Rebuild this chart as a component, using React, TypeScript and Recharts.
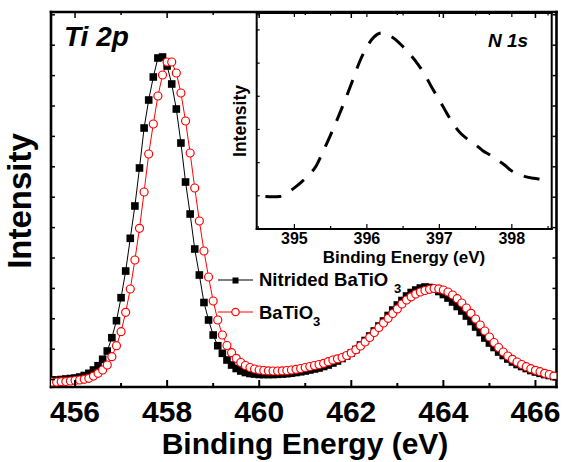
import React from "react";
import { LineChart, Line, XAxis, YAxis } from "recharts";

const FONT = '"Liberation Sans", Arial, sans-serif';

// binding energy grid, eV
const energy = [
  455.5, 455.6, 455.7, 455.8, 455.9,
  456.0, 456.1, 456.2, 456.3, 456.4, 456.5, 456.6, 456.7, 456.8, 456.9,
  457.0, 457.1, 457.2, 457.3, 457.4, 457.5, 457.6, 457.7, 457.8, 457.9,
  458.0, 458.1, 458.2, 458.3, 458.4, 458.5, 458.6, 458.7, 458.8, 458.9,
  459.0, 459.1, 459.2, 459.3, 459.4, 459.5, 459.6, 459.7, 459.8, 459.9,
  460.0, 460.1, 460.2, 460.3, 460.4, 460.5, 460.6, 460.7, 460.8, 460.9,
  461.0, 461.1, 461.2, 461.3, 461.4, 461.5, 461.6, 461.7, 461.8, 461.9,
  462.0, 462.1, 462.2, 462.3, 462.4, 462.5, 462.6, 462.7, 462.8, 462.9,
  463.0, 463.1, 463.2, 463.3, 463.4, 463.5, 463.6, 463.7, 463.8, 463.9,
  464.0, 464.1, 464.2, 464.3, 464.4, 464.5, 464.6, 464.7, 464.8, 464.9,
  465.0, 465.1, 465.2, 465.3, 465.4, 465.5, 465.6, 465.7, 465.8, 465.9,
  466.0, 466.1, 466.2, 466.3, 466.4,
];

// Ti 2p intensity (a.u.), nitrided BaTiO3
const nitrided = [
  -0.13, -0.13, 0.03, 0.2, 0.36,
  0.53, 0.86, 1.35, 2.07, 3.16, 4.57, 6.68, 9.41, 13.78, 19.38,
  26.94, 35.72, 46.48, 57.11, 69.61, 82.76, 91.97, 99.54, 105.79, 106.12,
  103.16, 97.24, 89.01, 77.83, 65, 54.47, 42.96, 34.41, 25.36, 19.61,
  14.67, 11.15, 8.65, 6.45, 4.8, 3.65, 2.83, 2.34, 2.01, 1.84,
  1.68, 1.68, 1.68, 1.68, 1.74, 1.84, 1.94, 2.11, 2.34, 2.57,
  2.83, 3.16, 3.49, 3.82, 4.31, 4.8, 5.46, 6.12, 6.94, 7.76,
  8.75, 9.9, 11.38, 12.86, 14.34, 15.99, 17.63, 19.28, 21.09, 22.89,
  24.54, 26.02, 27.5, 28.65, 29.47, 30.13, 30.46, 30.3, 29.8, 28.98,
  27.99, 26.84, 25.53, 24.05, 22.57, 20.92, 19.11, 17.3, 15.49, 13.68,
  12.04, 10.56, 9.08, 7.93, 6.78, 5.79, 4.97, 4.31, 3.65, 2.99,
  2.5, 2.07, 1.68, 1.35, 1.02,
];

// Ti 2p intensity (a.u.), BaTiO3
const pristine = [
  -0.79, -0.79, -0.69, -0.63, -0.46,
  -0.3, -0.13, 0.1, 0.43, 1.18, 2.07, 3.16, 4.8, 7.53, 11.15,
  15.76, 22.14, 29.8, 39.34, 49.77, 61.71, 74.21, 84.08, 93.29, 100.2,
  104.47, 104.47, 100.86, 94.28, 85.07, 74.54, 63.03, 52.17, 42.3, 33.75,
  25.86, 19.61, 14.67, 11.22, 8.85, 7.01, 5.63, 4.64, 3.98, 3.49,
  3.16, 2.99, 2.89, 2.83, 2.83, 2.89, 2.99, 3.16, 3.39, 3.65,
  3.98, 4.31, 4.64, 4.97, 5.36, 5.89, 6.45, 6.84, 7.27, 7.93,
  8.75, 9.84, 11.05, 12.37, 13.85, 15.49, 17.14, 18.62, 20.16, 21.74,
  23.26, 24.87, 26.18, 27.24, 28.16, 28.82, 29.31, 29.7, 29.97, 29.87,
  29.47, 28.82, 27.83, 26.61, 25.2, 23.55, 21.81, 19.93, 17.96, 15.99,
  14.01, 12.2, 10.56, 9.08, 7.76, 6.68, 5.79, 4.97, 4.24, 3.59,
  3.06, 2.6, 2.07, 1.68, 1.18,
];

const mainXTicks = [456, 457, 458, 459, 460, 461, 462, 463, 464, 465, 466];
const mainYTicks = [0, 10, 20, 30, 40, 50, 60, 70, 80, 90, 100, 110, 120];

// N 1s inset
const insetEnergy = [
  394.6, 394.7, 394.8, 394.9,
  395.0, 395.1, 395.2, 395.3, 395.4, 395.5, 395.6, 395.7, 395.8, 395.9,
  396.0, 396.1, 396.2, 396.3, 396.4, 396.5, 396.6, 396.7, 396.8, 396.9,
  397.0, 397.1, 397.2, 397.3, 397.4, 397.5, 397.6, 397.7, 397.8, 397.9,
  398.0, 398.1, 398.2, 398.3, 398.4, 398.5,
];
const n1s = [
  0.98, 0.97, 0.98, 1.09,
  1.24, 1.42, 1.63, 1.9, 2.36, 2.84, 3.35, 3.89, 4.46, 5.04,
  5.49, 5.79, 5.91, 5.85, 5.7, 5.49, 5.25, 4.98, 4.65, 4.25,
  3.89, 3.5, 3.14, 2.87, 2.69, 2.54, 2.36, 2.23, 2.08, 1.93,
  1.75, 1.66, 1.57, 1.53, 1.5, 1.47,
];
const insetXTicks = [394.5, 395, 395.5, 396, 396.5, 397, 397.5, 398, 398.5];
const insetYTicks = [1, 2, 3, 4, 5, 6];

const mainData = energy.map((e, i) => ({ e, n: nitrided[i], b: pristine[i] }));
const insetData = insetEnergy.map((e, i) => ({ e, v: n1s[i] }));

const frame = { stroke: "#000", strokeWidth: 2.6, strokeLinecap: "square" as const };
const thinFrame = { stroke: "#000", strokeWidth: 2, strokeLinecap: "square" as const };

const isMajor = (v: number) => Math.abs(v - Math.round(v)) < 1e-6;

function MainBottomTick({ x, y, payload }: any) {
  const major = Math.round(payload.value) % 2 === 0;
  return (
    <g>
      <line x1={x} x2={x} y1={y} y2={y - (major ? 7 : 4)} stroke="#000" strokeWidth={2} />
      {major && (
        <text x={x} y={y + 35} textAnchor="middle" fontFamily={FONT} fontWeight="bold" fontSize={30} fill="#000">
          {payload.value}
        </text>
      )}
    </g>
  );
}

function MainTopTick({ x, y, payload }: any) {
  const major = Math.round(payload.value) % 2 === 0;
  return <line x1={x} x2={x} y1={y} y2={y + (major ? 6 : 3)} stroke="#000" strokeWidth={1.5} />;
}

function LeftTick({ x, y }: any) {
  return <line x1={x} x2={x + 4} y1={y} y2={y} stroke="#000" strokeWidth={1.5} />;
}

function RightTick({ x, y }: any) {
  return <line x1={x} x2={x - 4} y1={y} y2={y} stroke="#000" strokeWidth={1.5} />;
}

function InsetBottomTick({ x, y, payload }: any) {
  const major = isMajor(payload.value);
  return (
    <g>
      <line x1={x} x2={x} y1={y} y2={y - (major ? 5 : 3)} stroke="#000" strokeWidth={1.2} />
      {major && (
        <text x={x} y={y + 15} textAnchor="middle" fontFamily={FONT} fontWeight="bold" fontSize={16} fill="#000">
          {payload.value}
        </text>
      )}
    </g>
  );
}

function InsetTopTick({ x, y, payload }: any) {
  const major = isMajor(payload.value);
  return <line x1={x} x2={x} y1={y} y2={y + (major ? 4 : 2.5)} stroke="#000" strokeWidth={1.2} />;
}

function InsetLeftTick({ x, y }: any) {
  return <line x1={x} x2={x + 3} y1={y} y2={y} stroke="#000" strokeWidth={1.2} />;
}

function SquareDot({ cx, cy }: any) {
  if (cx == null || cy == null) return null;
  return <rect x={cx - 3.8} y={cy - 3.8} width={7.6} height={7.6} fill="#000" />;
}

function MainChart() {
  return (
    <LineChart width={563} height={462} data={mainData} margin={{ top: 0, right: 0, bottom: 0, left: 0 }}>
      <XAxis
        xAxisId="b"
        dataKey="e"
        type="number"
        domain={[455.478, 466.457]}
        allowDataOverflow
        ticks={mainXTicks}
        interval={0}
        height={75}
        tickSize={0}
        tickMargin={0}
        tickLine={false}
        axisLine={frame}
        tick={MainBottomTick}
      />
      <XAxis
        xAxisId="t"
        orientation="top"
        dataKey="e"
        type="number"
        domain={[455.478, 466.457]}
        allowDataOverflow
        ticks={mainXTicks}
        interval={0}
        height={12}
        tickSize={0}
        tickMargin={0}
        tickLine={false}
        axisLine={frame}
        tick={MainTopTick}
      />
      <YAxis
        yAxisId="l"
        type="number"
        domain={[-2.43, 120.92]}
        allowDataOverflow
        ticks={mainYTicks}
        interval={0}
        width={51}
        tickSize={0}
        tickMargin={0}
        tickLine={false}
        axisLine={frame}
        tick={LeftTick}
      />
      <YAxis
        yAxisId="r"
        orientation="right"
        type="number"
        domain={[-2.43, 120.92]}
        allowDataOverflow
        ticks={mainYTicks}
        interval={0}
        width={6.5}
        tickSize={0}
        tickMargin={0}
        tickLine={false}
        axisLine={frame}
        tick={RightTick}
      />
      <Line
        xAxisId="b"
        yAxisId="l"
        type="linear"
        dataKey="n"
        stroke="#000"
        strokeWidth={1}
        dot={SquareDot}
        isAnimationActive={false}
      />
      <Line
        xAxisId="b"
        yAxisId="l"
        type="linear"
        dataKey="b"
        stroke="#ff0000"
        strokeWidth={1}
        dot={{ r: 4, fill: "#fff", stroke: "#ff0000", strokeWidth: 1.2 }}
        isAnimationActive={false}
      />
    </LineChart>
  );
}

function InsetChart() {
  return (
    <LineChart width={363} height={290} data={insetData} margin={{ top: 0, right: 0, bottom: 0, left: 0 }}>
      <XAxis
        xAxisId="b"
        dataKey="e"
        type="number"
        domain={[394.48, 398.55]}
        allowDataOverflow
        ticks={insetXTicks}
        interval={0}
        height={61}
        tickSize={0}
        tickMargin={0}
        tickLine={false}
        axisLine={thinFrame}
        tick={InsetBottomTick}
      />
      <XAxis
        xAxisId="t"
        orientation="top"
        dataKey="e"
        type="number"
        domain={[394.48, 398.55]}
        allowDataOverflow
        ticks={insetXTicks}
        interval={0}
        height={13}
        tickSize={0}
        tickMargin={0}
        tickLine={false}
        axisLine={thinFrame}
        tick={InsetTopTick}
      />
      <YAxis
        yAxisId="l"
        type="number"
        domain={[0, 6.51]}
        allowDataOverflow
        ticks={insetYTicks}
        interval={0}
        width={56.7}
        tickSize={0}
        tickMargin={0}
        tickLine={false}
        axisLine={thinFrame}
        tick={InsetLeftTick}
      />
      <YAxis
        yAxisId="r"
        orientation="right"
        type="number"
        domain={[0, 6.51]}
        width={11.3}
        tick={false}
        tickLine={false}
        axisLine={thinFrame}
      />
      <Line
        xAxisId="b"
        yAxisId="l"
        type="monotone"
        dataKey="v"
        stroke="#000"
        strokeWidth={3}
        strokeDasharray="16 12"
        dot={false}
        isAnimationActive={false}
      />
    </LineChart>
  );
}

function Labels() {
  const bold = { fontFamily: FONT, fontWeight: "bold" as const, fill: "#000" };
  return (
    <svg width={563} height={462} style={{ position: "absolute", left: 0, top: 0, pointerEvents: "none" }}>
      <text x={64} y={45.5} fontSize={28} fontStyle="italic" {...bold}>Ti 2p</text>
      <text x={31} y={201} fontSize={33} textAnchor="middle" transform="rotate(-90 31 201)" {...bold}>Intensity</text>
      <text x={305} y={454} fontSize={30} textAnchor="middle" {...bold}>Binding Energy (eV)</text>

      {/* legend */}
      <line x1={218} x2={253} y1={280} y2={280} stroke="#000" strokeWidth={1.2} />
      <rect x={232.5} y={277.5} width={6} height={6} fill="#000" />
      <text x={259} y={286} fontSize={18.5} {...bold}>Nitrided BaTiO</text>
      <text x={394} y={293} fontSize={13} {...bold}>3</text>
      <line x1={218} x2={253} y1={312} y2={312} stroke="#ff0000" strokeWidth={1} />
      <circle cx={235.5} cy={312} r={3.7} fill="#fff" stroke="#ff0000" strokeWidth={1.2} />
      <text x={259} y={318.5} fontSize={18.5} {...bold}>BaTiO</text>
      <text x={313} y={325.5} fontSize={13} {...bold}>3</text>

      {/* inset text */}
      <text x={488} y={46.5} fontSize={19} fontStyle="italic" {...bold}>N 1s</text>
      <text x={246} y={121} fontSize={17.5} textAnchor="middle" transform="rotate(-90 246 121)" {...bold}>Intensity</text>
      <text x={404} y={263} fontSize={17} textAnchor="middle" {...bold}>Binding Energy (eV)</text>
    </svg>
  );
}

export default function App() {
  return (
    <div style={{ position: "absolute", left: 0, top: 0, width: 563, height: 462, background: "#fff" }}>
      <div style={{ position: "absolute", left: 0, top: 0 }}>
        <MainChart />
      </div>
      <div style={{ position: "absolute", left: 200, top: 0 }}>
        <InsetChart />
      </div>
      <Labels />
    </div>
  );
}
